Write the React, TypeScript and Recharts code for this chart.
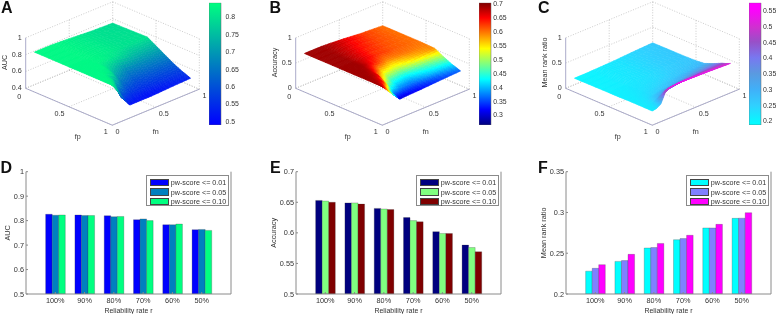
import React from 'react';
import { BarChart, Bar, XAxis, YAxis, Legend, ScatterChart, Scatter, ReferenceLine } from 'recharts';

const FONT = '"Liberation Sans", Arial, sans-serif';
const TEXT = '#333';
const FRAME = '#8a8a8a';

// ---------- bar data ----------
const rates = ['100%', '90%', '80%', '70%', '60%', '50%'];
const seriesNames = ['pw-score <= 0.01', 'pw-score <= 0.05', 'pw-score <= 0.10'];
const aucP01 = [0.826, 0.823, 0.82, 0.804, 0.783, 0.763];
const aucP05 = [0.822, 0.821, 0.816, 0.807, 0.783, 0.764];
const aucP10 = [0.823, 0.821, 0.817, 0.8, 0.786, 0.76];
const accP01 = [0.653, 0.649, 0.64, 0.625, 0.602, 0.58];
const accP05 = [0.652, 0.649, 0.639, 0.62, 0.599, 0.576];
const accP10 = [0.65, 0.647, 0.638, 0.618, 0.599, 0.569];
const mrrP01 = [0.228, 0.24, 0.2564, 0.2666, 0.281, 0.2928];
const mrrP05 = [0.2315, 0.241, 0.257, 0.268, 0.281, 0.293];
const mrrP10 = [0.236, 0.2486, 0.262, 0.272, 0.2854, 0.2997];
const aucTicks = [0.5, 0.6, 0.7, 0.8, 0.9, 1];
const accTicks = [0.5, 0.55, 0.6, 0.65, 0.7];
const mrrTicks = [0.2, 0.25, 0.3, 0.35];

// ---------- surface data ----------
const fpGrid = [0.05, 0.45, 0.55, 0.65, 0.75, 0.85, 0.9, 0.95];
const fnGrid = [0.05, 0.1, 0.15, 0.2, 0.25, 0.35, 0.5, 0.7, 0.95];
const aucSurface = [
  [0.83, 0.83, 0.83, 0.83, 0.83, 0.825, 0.815, 0.8, 0.79],
  [0.83, 0.83, 0.83, 0.83, 0.83, 0.825, 0.815, 0.8, 0.8],
  [0.83, 0.83, 0.83, 0.83, 0.83, 0.825, 0.8, 0.75, 0.74],
  [0.83, 0.83, 0.83, 0.83, 0.83, 0.76, 0.67, 0.67, 0.68],
  [0.83, 0.83, 0.83, 0.82, 0.8, 0.65, 0.6, 0.61, 0.62],
  [0.83, 0.83, 0.81, 0.7, 0.62, 0.56, 0.55, 0.56, 0.57],
  [0.83, 0.82, 0.72, 0.6, 0.55, 0.53, 0.52, 0.53, 0.55],
  [0.835, 0.75, 0.67, 0.59, 0.51, 0.51, 0.51, 0.52, 0.53],
];
const accSurface = [
  [0.69, 0.69, 0.69, 0.69, 0.69, 0.68, 0.66, 0.625, 0.6],
  [0.69, 0.69, 0.69, 0.69, 0.68, 0.66, 0.625, 0.61, 0.6],
  [0.69, 0.69, 0.69, 0.69, 0.68, 0.64, 0.59, 0.6, 0.595],
  [0.69, 0.69, 0.69, 0.68, 0.65, 0.55, 0.52, 0.56, 0.59],
  [0.69, 0.69, 0.68, 0.66, 0.56, 0.45, 0.43, 0.46, 0.5],
  [0.69, 0.68, 0.65, 0.55, 0.42, 0.38, 0.37, 0.4, 0.42],
  [0.69, 0.66, 0.55, 0.42, 0.35, 0.34, 0.34, 0.36, 0.39],
  [0.69, 0.59, 0.49, 0.4, 0.3, 0.31, 0.32, 0.34, 0.36],
];
const mrrSurface = [
  [0.2, 0.2, 0.2, 0.2, 0.205, 0.21, 0.22, 0.24, 0.26],
  [0.205, 0.205, 0.21, 0.21, 0.215, 0.22, 0.23, 0.25, 0.265],
  [0.205, 0.21, 0.21, 0.215, 0.22, 0.225, 0.235, 0.255, 0.27],
  [0.21, 0.21, 0.215, 0.22, 0.225, 0.235, 0.25, 0.27, 0.29],
  [0.21, 0.215, 0.22, 0.23, 0.24, 0.26, 0.29, 0.33, 0.36],
  [0.21, 0.22, 0.23, 0.27, 0.31, 0.37, 0.41, 0.43, 0.44],
  [0.21, 0.22, 0.25, 0.37, 0.44, 0.47, 0.48, 0.48, 0.47],
  [0.21, 0.225, 0.28, 0.47, 0.53, 0.55, 0.54, 0.53, 0.51],
];
const floorTicks = [0, 0.5, 1];

// ---------- colour maps ----------
type Stop = [number, string];
const winterMap: Stop[] = [[0, '#0000ff'], [1, '#00ff80']];
const jetMap: Stop[] = [[0, '#00007f'], [0.125, '#0000ff'], [0.375, '#00ffff'], [0.625, '#ffff00'], [0.875, '#ff0000'], [1, '#7f0000']];
const coolMap: Stop[] = [[0, '#00ffff'], [0.16, '#30d0ff'], [0.29, '#40b0f8'], [0.42, '#5a9ae0'], [0.55, '#7878f0'], [0.68, '#9850c8'], [0.8, '#d030d0'], [0.95, '#ff00ff'], [1, '#ff00ff']];

function rgb(h: string) {
  return [1, 3, 5].map((i) => parseInt(h.slice(i, i + 2), 16));
}
function colorAt(map: Stop[], t0: number) {
  const t = Math.max(0, Math.min(1, t0));
  for (let i = 1; i < map.length; i++) {
    if (t <= map[i][0]) {
      const f = (t - map[i - 1][0]) / (map[i][0] - map[i - 1][0]);
      const a = rgb(map[i - 1][1]);
      const b = rgb(map[i][1]);
      return `rgb(${a.map((v, k) => Math.round(v + (b[k] - v) * f)).join(',')})`;
    }
  }
  return map[map.length - 1][1];
}

// ---------- 3-D projection ----------
const W3 = 240;
const H3 = 157;
function project(fp: number, fn: number, zNorm: number) {
  return {
    x: 25.7 + 86.6 * fp + 87 * fn,
    y: 88.3 + 36.9 * fp - 36 * fn - zNorm * 50.5,
  };
}

function buildCells(table: number[][], zLo: number, zHi: number, map: Stop[], cLo: number, cHi: number) {
  const cells: any[] = [];
  const SUB = 5;
  for (let i = 0; i < fpGrid.length - 1; i++) {
    for (let j = 0; j < fnGrid.length - 1; j++) {
      for (let a = 0; a < SUB; a++) {
        for (let b = 0; b < SUB; b++) {
          const pt = (u: number, v: number) => {
            const fp = fpGrid[i] + (fpGrid[i + 1] - fpGrid[i]) * u;
            const fn = fnGrid[j] + (fnGrid[j + 1] - fnGrid[j]) * v;
            const z =
              table[i][j] * (1 - u) * (1 - v) +
              table[i + 1][j] * u * (1 - v) +
              table[i][j + 1] * (1 - u) * v +
              table[i + 1][j + 1] * u * v;
            return { fp, fn, z, ...project(fp, fn, (z - zLo) / (zHi - zLo)) };
          };
          const c = pt((a + 0.5) / SUB, (b + 0.5) / SUB);
          cells.push({
            x: c.x,
            y: c.y,
            order: c.fp - c.fn,
            fill: colorAt(map, (c.z - cLo) / (cHi - cLo)),
            corners: [pt(a / SUB, b / SUB), pt((a + 1) / SUB, b / SUB), pt((a + 1) / SUB, (b + 1) / SUB), pt(a / SUB, (b + 1) / SUB)],
          });
        }
      }
    }
  }
  return cells.sort((p, q) => p.order - q.order);
}

const CellShape = (props: any) => {
  const { cx, cy, payload: p } = props;
  const points = p.corners.map((c: any) => `${cx + c.x - p.x},${cy + c.y - p.y}`).join(' ');
  return <polygon points={points} fill={p.fill} stroke={p.fill} strokeWidth={0.6} />;
};

const LabelShape = (props: any) => {
  const { cx, cy, payload: p } = props;
  return (
    <text
      x={cx}
      y={cy}
      textAnchor={p.anchor || 'middle'}
      dominantBaseline="central"
      fontFamily={FONT}
      fontSize={7.2}
      fill={TEXT}
      transform={p.rotate ? `rotate(${p.rotate} ${cx} ${cy})` : undefined}
    >
      {p.text}
    </text>
  );
};

function Surface3D({ left, table, zTicks, zLo, zHi, zLabel, map, cLo, cHi }: any) {
  const cells = buildCells(table, zLo, zHi, map, cLo, cHi);
  const P = project;
  const dotted: [any, any][] = [];
  const solid: [any, any][] = [];
  [0.5, 1].forEach((t) => {
    dotted.push([P(t, 0, 0), P(t, 1, 0)]);
  });
  [0, 0.5].forEach((t) => {
    dotted.push([P(0, t, 0), P(1, t, 0)]);
  });
  dotted.push([P(0, 0, 0), P(0, 1, 0)]);
  dotted.push([P(0, 1, 0), P(1, 1, 0)]);
  zTicks.forEach((z: number) => {
    const n = (z - zLo) / (zHi - zLo);
    dotted.push([P(0, 0, n), P(0, 1, n)]);
    dotted.push([P(0, 1, n), P(1, 1, n)]);
  });
  dotted.push([P(0, 0.5, 0), P(0, 0.5, 1)]);
  dotted.push([P(0.5, 1, 0), P(0.5, 1, 1)]);
  dotted.push([P(0, 1, 0), P(0, 1, 1)]);
  dotted.push([P(1, 1, 0), P(1, 1, 1)]);
  solid.push([P(0, 0, 0), P(0, 0, 1)]);
  solid.push([P(0, 0, 0), P(1, 0, 0)]);
  solid.push([P(1, 0, 0), P(1, 1, 0)]);

  const labels: any[] = [];
  zTicks.forEach((z: number) => {
    const n = (z - zLo) / (zHi - zLo);
    const p = P(0, 0, n);
    labels.push({ x: p.x - 4, y: p.y - 0.5, text: String(z), anchor: 'end' });
  });
  floorTicks.forEach((t) => {
    const a = P(t, 0, 0);
    labels.push({ x: a.x - (t === 0.5 ? 9.5 : 6.5), y: a.y + (t === 0 ? 8 : 6.5), text: String(t) });
    const b = P(1, t, 0);
    labels.push({ x: b.x + (t === 0.5 ? 8 : 5.2), y: b.y + 6.5, text: String(t) });
  });
  labels.push({ x: 77.7, y: 136.7, text: 'fp' });
  labels.push({ x: 155.7, y: 131.7, text: 'fn' });
  labels.push({ x: 4.7, y: 62.5, text: zLabel, rotate: -90 });

  return (
    <div style={{ position: 'absolute', left, top: 0 }}>
      <ScatterChart width={W3} height={H3} margin={{ top: 0, right: 0, bottom: 0, left: 0 }}>
        <XAxis type="number" dataKey="x" domain={[0, W3]} hide allowDataOverflow />
        <YAxis type="number" dataKey="y" domain={[0, H3]} reversed hide allowDataOverflow />
        {dotted.map(([a, b], i) => (
          <ReferenceLine key={`d${i}`} segment={[{ x: a.x, y: a.y }, { x: b.x, y: b.y }]} stroke="#b4b4b4" strokeWidth={0.7} strokeDasharray="1 1.6" ifOverflow="visible" />
        ))}
        {solid.map(([a, b], i) => (
          <ReferenceLine key={`s${i}`} segment={[{ x: a.x, y: a.y }, { x: b.x, y: b.y }]} stroke="#a3a3c4" strokeWidth={0.9} ifOverflow="visible" />
        ))}
        <Scatter data={cells} shape={CellShape} isAnimationActive={false} />
        <Scatter data={labels} shape={LabelShape} isAnimationActive={false} />
      </ScatterChart>
    </div>
  );
}

function ColorBar({ left, id, map, lo, hi, ticks, gap, width }: any) {
  const data = [{ name: 'c', range: [lo, hi] }];
  return (
    <div style={{ position: 'absolute', left, top: 0 }}>
      <BarChart width={width} height={132} data={data} barCategoryGap={0} margin={{ top: 2.7, right: 0, bottom: 7, left: 0 }}>
        <defs>
          <linearGradient id={id} x1="0" y1="1" x2="0" y2="0">
            {map.map(([o, c]: Stop) => (
              <stop key={o} offset={o} stopColor={c} />
            ))}
          </linearGradient>
        </defs>
        <XAxis dataKey="name" hide />
        <YAxis
          orientation="right"
          width={width - 12.4}
          type="number"
          domain={[lo, hi]}
          ticks={ticks}
          allowDataOverflow
          tickSize={0}
          tickMargin={gap}
          axisLine={false}
          interval={0}
          tick={{ fontFamily: FONT, fontSize: 6.9, fill: TEXT }}
        />
        <Bar dataKey="range" fill={`url(#${id})`} stroke="#666" strokeWidth={0.5} isAnimationActive={false} />
      </BarChart>
    </div>
  );
}

const LegendBox = ({ payload, colors }: any) => (
  <div style={{ background: '#fff', border: `1px solid ${FRAME}`, boxSizing: 'border-box', width: 83, height: 30.5, padding: '1.8px 0 0 3.5px' }}>
    {(payload || []).map((e: any, i: number) => (
      <div key={i} style={{ display: 'flex', alignItems: 'center', height: 9.4 }}>
        <div style={{ width: 18.6, height: 7.4, background: colors[i], boxSizing: 'border-box', border: '0.5px solid #444', marginRight: 2 }} />
        <span style={{ fontFamily: FONT, fontSize: 7.2, color: TEXT, whiteSpace: 'nowrap', lineHeight: '9px' }}>{e.value}</span>
      </div>
    ))}
  </div>
);

function BarPanel({ left, series, colors, ticks, domain, yLabel, labelOffset }: any) {
  const data = rates.map((r, i) => ({ r, a: series[0][i], b: series[1][i], c: series[2][i] }));
  const plotW = 205;
  const axisW = 26;
  const band = plotW / 7;
  const tickStyle = { fontFamily: FONT, fontSize: 7.3, fill: TEXT };
  return (
    <div style={{ position: 'absolute', left, top: 157 }}>
      <BarChart
        width={axisW + plotW + 1}
        height={157}
        data={data}
        barSize={6.55}
        barGap={0}
        margin={{ top: 14.7, right: 0, bottom: 0, left: 0 }}
      >
        <XAxis
          dataKey="r"
          height={20}
          padding={{ left: band / 2, right: band / 2 }}
          stroke={FRAME}
          tickSize={-2}
          tickMargin={6}
          interval={0}
          tick={tickStyle}
          label={{ value: 'Reliability rate r', position: 'insideBottom', offset: 1.5, fontFamily: FONT, fontSize: 7, fill: TEXT }}
        />
        <XAxis xAxisId="top" dataKey="r" orientation="top" height={0} padding={{ left: band / 2, right: band / 2 }} stroke={FRAME} tick={false} tickSize={-2} />
        <YAxis
          width={axisW}
          type="number"
          domain={domain}
          ticks={ticks}
          allowDataOverflow
          interval={0}
          stroke={FRAME}
          tickSize={-2}
          tickMargin={4}
          tick={tickStyle}
          label={{ value: yLabel, angle: -90, position: 'insideLeft', offset: labelOffset, style: { textAnchor: 'middle' }, fontFamily: FONT, fontSize: 7.3, fill: TEXT }}
        />
        <YAxis yAxisId="right" orientation="right" width={1} type="number" domain={domain} ticks={ticks} allowDataOverflow stroke={FRAME} tick={false} tickSize={-2} />
        <Legend
          layout="vertical"
          align="center"
          verticalAlign="middle"
          wrapperStyle={{ position: 'absolute', left: axisW + plotW - 85.3, top: 18.3, width: 83, height: 30.5, margin: 0 }}
          content={(p: any) => <LegendBox payload={p.payload} colors={colors} />}
        />
        <Bar dataKey="a" name={seriesNames[0]} fill={colors[0]} stroke="#333" strokeWidth={0.25} isAnimationActive={false} />
        <Bar dataKey="b" name={seriesNames[1]} fill={colors[1]} stroke="#333" strokeWidth={0.25} isAnimationActive={false} />
        <Bar dataKey="c" name={seriesNames[2]} fill={colors[2]} stroke="#333" strokeWidth={0.25} isAnimationActive={false} />
      </BarChart>
    </div>
  );
}

const letterStyle = (x: number, y: number): React.CSSProperties => ({
  position: 'absolute',
  left: x,
  top: y,
  fontFamily: FONT,
  fontWeight: 700,
  fontSize: 16,
  lineHeight: '16px',
  color: '#111',
});
const panelLetters: [string, number, number][] = [
  ['A', 1, 0],
  ['B', 269.5, 0],
  ['C', 538, 0],
  ['D', 0.5, 159.5],
  ['E', 270, 159.5],
  ['F', 538, 159.5],
];

export default function App() {
  return (
    <div style={{ position: 'absolute', left: 0, top: 0, width: 778, height: 314, background: '#fff', overflow: 'hidden', filter: 'blur(0.3px)' }}>
      <Surface3D left={0} table={aucSurface} zTicks={[0.4, 0.6, 0.8, 1]} zLo={0.4} zHi={1} zLabel="AUC" map={winterMap} cLo={0.49} cHi={0.84} />
      <ColorBar left={209} id="gradA" width={40} gap={4} map={winterMap} lo={0.49} hi={0.84} ticks={[0.5, 0.55, 0.6, 0.65, 0.7, 0.75, 0.8]} />
      <Surface3D left={270.3} table={accSurface} zTicks={[0, 0.5, 1]} zLo={0} zHi={1} zLabel="Accuracy" map={jetMap} cLo={0.264} cHi={0.704} />
      <ColorBar left={479} id="gradB" width={40} gap={1.8} map={jetMap} lo={0.264} hi={0.704} ticks={[0.3, 0.35, 0.4, 0.45, 0.5, 0.55, 0.6, 0.65, 0.7]} />
      <Surface3D left={540} table={mrrSurface} zTicks={[0, 0.5, 1]} zLo={0} zHi={1} zLabel="Mean rank ratio" map={coolMap} cLo={0.187} cHi={0.576} />
      <ColorBar left={749.3} id="gradC" width={28.7} gap={1.5} map={coolMap} lo={0.187} hi={0.576} ticks={[0.2, 0.25, 0.3, 0.35, 0.4, 0.45, 0.5, 0.55]} />

      <BarPanel left={0} labelOffset={7} series={[aucP01, aucP05, aucP10]} colors={['#0000ff', '#0080bf', '#00ff80']} ticks={aucTicks} domain={[0.5, 1]} yLabel="AUC" />
      <BarPanel left={270} labelOffset={3} series={[accP01, accP05, accP10]} colors={['#00007f', '#80ff80', '#7f0000']} ticks={accTicks} domain={[0.5, 0.7]} yLabel="Accuracy" />
      <BarPanel left={540} labelOffset={3} series={[mrrP01, mrrP05, mrrP10]} colors={['#00ffff', '#8080ff', '#ff00ff']} ticks={mrrTicks} domain={[0.2, 0.35]} yLabel="Mean rank ratio" />

      {panelLetters.map(([t, x, y]) => (
        <div key={t} style={letterStyle(x, y)}>{t}</div>
      ))}
    </div>
  );
}
